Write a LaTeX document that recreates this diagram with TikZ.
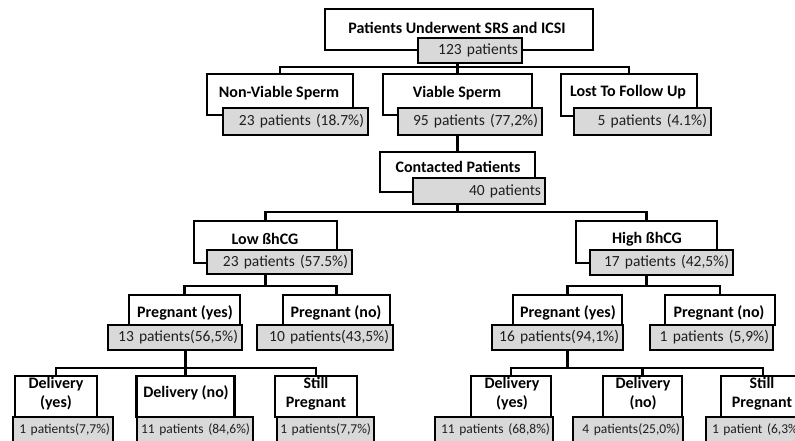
\documentclass[tikz,border=0pt]{standalone}
\usepackage{fontspec}
\setmainfont{Carlito}
\usetikzlibrary{calc}
\definecolor{gfill}{HTML}{D9D9D9}
\definecolor{ink}{HTML}{1E1E1E}
\begin{document}
\begin{tikzpicture}[x=1pt,y=-1pt,
  wbox/.style={draw=black,line width=2.8pt,fill=white,inner sep=0pt},
  gbox/.style={draw=black,line width=2.8pt,fill=gfill,inner ysep=0pt,inner xsep=4pt,align=right,text=ink,font=\fontsize{15.5}{17}\selectfont},
  sgbox/.style={gbox,inner xsep=3pt,font=\fontsize{13.5}{15}\selectfont},
  ttl/.style={inner sep=0pt,align=center,text=black,font=\bfseries\fontsize{16}{19}\selectfont},
  conn/.style={draw=black,line width=2.8pt}]
\useasboundingbox (0,0) rectangle (795,441);
\clip (0,0) rectangle (795,441);
\fill[white] (0,0) rectangle (795,441);
% row 0
\node[wbox,minimum width=268pt,minimum height=41pt] (topw) at (459,29.5) {};
\node[gbox,text width=96pt,minimum height=25pt] (topg) at (470,50.5) {123 patients};
\node[ttl] (topt) at (457,28) {Patients Underwent SRS and ICSI};
% row 1
\node[wbox,minimum width=146pt,minimum height=41pt] (nvw) at (280,94.5) {};
\node[gbox,text width=137pt,minimum height=27pt] (nvg) at (295.5,121.5) {23 patients (18.7\%)};
\node[ttl] (nvt) at (279,93) {Non-Viable Sperm};
\node[wbox,minimum width=149pt,minimum height=41pt] (vw) at (457.5,94.5) {};
\node[gbox,text width=136pt,minimum height=27pt] (vg) at (470,121.5) {95 patients (77,2\%)};
\node[ttl] (vt) at (457,93) {Viable Sperm};
\node[wbox,minimum width=136pt,minimum height=42pt] (lw) at (629,95) {};
\node[gbox,text width=129pt,minimum height=27pt] (lg) at (642.5,121.5) {5 patients (4.1\%)};
\node[ttl] (lt) at (628,92) {Lost To Follow Up};
% row 2
\node[wbox,minimum width=155pt,minimum height=40pt] (cw) at (457.5,172) {};
\node[gbox,text width=124pt,minimum height=26pt] (cg) at (479,191) {40 patients};
\node[ttl] (ct) at (458,167) {Contacted Patients};
% row 3
\node[wbox,minimum width=143pt,minimum height=42pt] (low) at (265.5,242) {};
\node[gbox,text width=137pt,minimum height=24pt] (lowg) at (279.5,262) {23 patients (57.5\%)};
\node[ttl] (lowt) at (265,239) {Low ßhCG};
\node[wbox,minimum width=141pt,minimum height=42pt] (hiw) at (646.5,242) {};
\node[gbox,text width=135pt,minimum height=25pt] (hig) at (661.5,262.5) {17 patients (42,5\%)};
\node[ttl] (hit) at (647,239) {High ßhCG};
% row 4
\node[wbox,minimum width=111pt,minimum height=30pt] (pylw) at (184.5,310) {};
\node[gbox,text width=126pt,minimum height=25pt] (pylg) at (175,337.5) {13 patients(56,5\%)};
\node[ttl] (pylt) at (185,313) {Pregnant (yes)};
\node[wbox,minimum width=107pt,minimum height=30pt] (pnlw) at (336.5,310) {};
\node[gbox,text width=128pt,minimum height=25pt] (pnlg) at (325,337.5) {10 patients(43,5\%)};
\node[ttl] (pnlt) at (336,313) {Pregnant (no)};
\node[wbox,minimum width=109pt,minimum height=30pt] (pyrw) at (567.5,310) {};
\node[gbox,text width=123pt,minimum height=25pt] (pyrg) at (557.5,337.5) {16 patients(94,1\%)};
\node[ttl] (pyrt) at (568,313) {Pregnant (yes)};
\node[wbox,minimum width=110pt,minimum height=30pt] (pnrw) at (720,310) {};
\node[gbox,text width=115pt,minimum height=25pt] (pnrg) at (711.5,337.5) {1 patients (5,9\%)};
\node[ttl] (pnrt) at (719,313) {Pregnant (no)};
% row 5 left
\node[wbox,minimum width=82pt,minimum height=41pt] (dylw) at (56,396.5) {};
\node[sgbox,text width=94pt,minimum height=26pt] (dylg) at (63,430) {1 patients(7,7\%)};
\node[ttl] (dylt) at (56,393.5) {Delivery\\(yes)};
\node[wbox,minimum width=98pt,minimum height=41pt] (dnlw) at (185.5,396.5) {};
\node[sgbox,text width=110pt,minimum height=26pt] (dnlg) at (195,430) {11 patients (84,6\%)};
\node[ttl] (dnlt) at (186,393) {Delivery (no)};
\node[wbox,minimum width=82pt,minimum height=41pt] (splw) at (316,396.5) {};
\node[sgbox,text width=91pt,minimum height=26pt] (splg) at (325.5,430) {1 patients(7,7\%)};
\node[ttl] (splt) at (316,393.5) {Still\\Pregnant};
% row 5 right
\node[wbox,minimum width=80pt,minimum height=41pt] (dyrw) at (511,396.5) {};
\node[sgbox,text width=112pt,minimum height=26pt] (dyrg) at (494,430) {11 patients (68,8\%)};
\node[ttl] (dyrt) at (512,393.5) {Delivery\\(yes)};
\node[wbox,minimum width=79pt,minimum height=41pt] (dnrw) at (642.5,396.5) {};
\node[sgbox,text width=104pt,minimum height=26pt] (dnrg) at (628,430) {4 patients(25,0\%)};
\node[ttl] (dnrt) at (643,393.5) {Delivery\\(no)};
\node[wbox,minimum width=84pt,minimum height=41pt] (sprw) at (763,396.5) {};
\node[sgbox,inner xsep=6pt,align=left,text width=102pt,minimum height=26pt] (sprg) at (763,430) {1 patient (6,3\%)};
\node[ttl] (sprt) at (762,393.5) {Still\\Pregnant};
% connectors
\coordinate (b1) at (0,67);
\coordinate (b2) at (0,212);
\coordinate (b3) at (0,286);
\coordinate (b4) at (0,368);
\draw[conn] (vw.north) -- (vw.north |- topg.south);
\draw[conn] (nvw.north) |- (b1 -| lw.north) -- (lw.north);
\draw[conn] (cw.north) -- (cw.north |- vg.south);
\draw[conn] (cw.center |- cg.south) -- (cw.center |- b2);
\draw[conn] (low.north) |- (b2 -| hiw.north) -- (hiw.north);
\draw[conn] (low.center |- lowg.south) -- (low.center |- b3);
\draw[conn] (pylw.north) |- (b3 -| pnlw.north) -- (pnlw.north);
\draw[conn] (hiw.center |- hig.south) -- (hiw.center |- b3);
\draw[conn] (pyrw.north) |- (b3 -| pnrw.north) -- (pnrw.north);
\draw[conn] (dnlw.north) -- (dnlw.north |- pylg.south);
\draw[conn] (dylw.north) |- (b4 -| splw.north) -- (splw.north);
\draw[conn] (pyrw.center |- pyrg.south) -- (pyrw.center |- b4);
\draw[conn] (dyrw.north) |- (b4 -| sprw.north) -- (sprw.north);
\draw[conn] (dnrw.north) -- (dnrw.north |- b4);
\end{tikzpicture}
\end{document}
